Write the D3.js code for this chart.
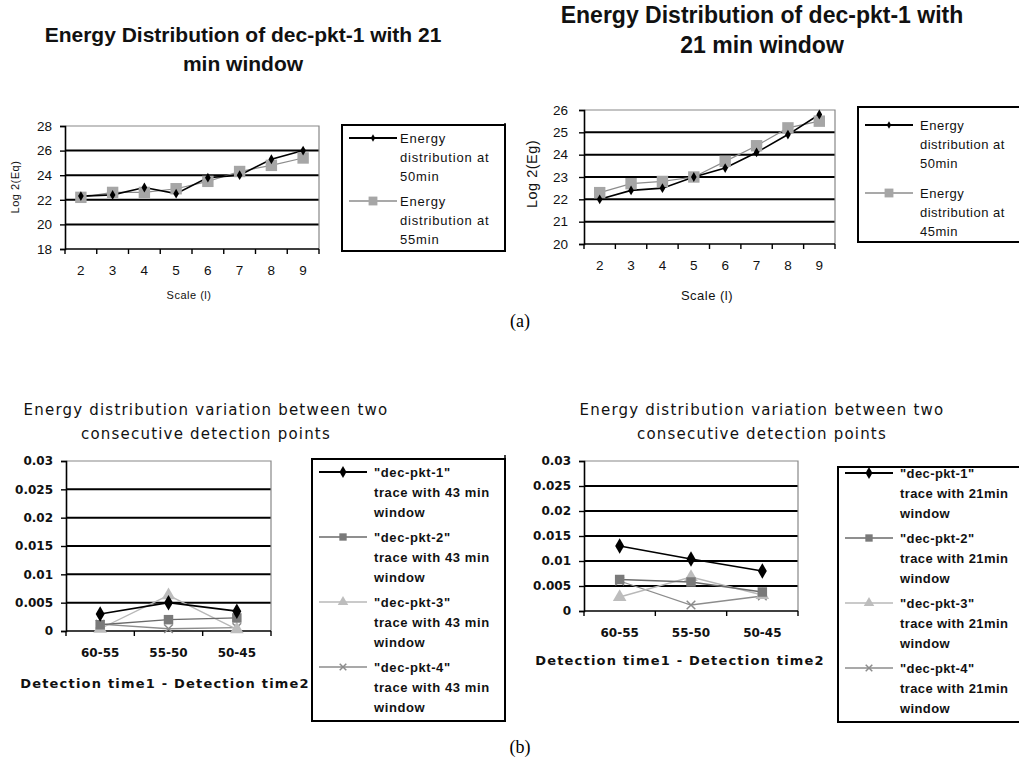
<!DOCTYPE html>
<html>
<head>
<meta charset="utf-8">
<script src="https://cdn.jsdelivr.net/npm/d3@7"></script>
<style>
  body { margin: 0; background: #fff; }
  svg { display: block; }
</style>
</head>
<body>
<script>
// data

var scales = ["2", "3", "4", "5", "6", "7", "8", "9"];
var leftAt50 = [22.3, 22.4, 23.0, 22.5, 23.8, 24.0, 25.3, 26.0];
var leftAt55 = [22.2, 22.6, 22.6, 22.9, 23.5, 24.3, 24.8, 25.4];
var rightAt50 = [22.0, 22.4, 22.5, 23.0, 23.4, 24.1, 24.9, 25.8];
var rightAt45 = [22.3, 22.7, 22.8, 23.0, 23.7, 24.4, 25.2, 25.5];
var leftTicks = [18, 20, 22, 24, 26, 28];
var rightTicks = [20, 21, 22, 23, 24, 25, 26];

var pairs = ["60-55", "55-50", "50-45"];
var win43Pkt1 = [0.003, 0.005, 0.0035];
var win43Pkt2 = [0.0011, 0.002, 0.0023];
var win43Pkt3 = [0.0004, 0.0063, 0.0003];
var win43Pkt4 = [0.0012, 0.0004, 0.0006];
var win21Pkt1 = [0.013, 0.0104, 0.008];
var win21Pkt2 = [0.0063, 0.0058, 0.0038];
var win21Pkt3 = [0.0028, 0.0068, 0.0032];
var win21Pkt4 = [0.006, 0.0012, 0.003];
var diffTicks = [0, 0.005, 0.01, 0.015, 0.02, 0.025, 0.03];
var diffTickLabels = ["0", "0.005", "0.01", "0.015", "0.02", "0.025", "0.03"];

var svg = d3.select("body").append("svg")
  .attr("width", 1019)
  .attr("height", 765);

var sans = "Liberation Sans, Arial, sans-serif";
var blocky = "DejaVu Sans, Verdana, sans-serif";

// marker styles, one per series slot
var styleTop = [
  { stroke: "#000", width: 1.6, symbol: d3.symbolDiamond, size: 28, fill: "#000" },
  { stroke: "#8c8c8c", width: 1.2, symbol: d3.symbolSquare, size: 130, fill: "#a6a6a6" }
];
var styleBottom = [
  { stroke: "#000", width: 1.6, symbol: d3.symbolDiamond, size: 70, fill: "#000" },
  { stroke: "#6a6a6a", width: 1.3, symbol: d3.symbolSquare, size: 90, fill: "#7a7a7a" },
  { stroke: "#b8b8b8", width: 1.3, symbol: d3.symbolTriangle, size: 80, fill: "#bdbdbd" },
  { stroke: "#8c8c8c", width: 1.3, symbol: d3.symbolX, size: 50, fill: "none" }
];

function marker(sel, st) {
  sel.attr("d", d3.symbol().type(st.symbol).size(st.size))
    .attr("fill", st.fill)
    .attr("stroke", st.fill == "none" ? st.stroke : "none")
    .attr("stroke-width", 1.5);
}

function drawChart(c) {
  var g = svg.append("g");
  var x = d3.scaleBand().domain(c.cats).range([c.left, c.left + c.width]);
  var y = d3.scaleLinear().domain([c.ticks[0], c.ticks[c.ticks.length - 1]])
    .range([c.top + c.height, c.top]);
  var bw = x.bandwidth();

  // titles
  g.selectAll(".title").data(c.title).enter().append("text")
    .attr("x", c.titleX)
    .attr("y", function (d, i) { return c.titleY + i * c.titleGap; })
    .attr("text-anchor", "middle")
    .style("font", c.titleFont)
    .style("letter-spacing", c.titleSpacing)
    .attr("fill", "#111")
    .text(function (d) { return d; });

  // grid
  g.selectAll(".grid").data(c.ticks.slice(1, -1)).enter().append("line")
    .attr("x1", c.left).attr("x2", c.left + c.width)
    .attr("y1", function (d) { return y(d); })
    .attr("y2", function (d) { return y(d); })
    .attr("stroke", "#000").attr("stroke-width", 2);

  // top and right border
  g.append("path")
    .attr("d", "M" + c.left + "," + c.top + "H" + (c.left + c.width) + "V" + (c.top + c.height))
    .attr("fill", "none").attr("stroke", "#888").attr("stroke-width", 1.2);

  // y axis
  var yAxis = g.append("g")
    .attr("transform", "translate(" + c.left + ",0)")
    .call(d3.axisLeft(y).tickValues(c.ticks).tickSize(5).tickPadding(c.yPad)
      .tickFormat(function (d, i) { return c.tickLabels[i]; }));
  yAxis.select(".domain").attr("stroke", "#000").attr("stroke-width", 1.6);
  yAxis.selectAll(".tick line").attr("stroke", "#000").attr("stroke-width", 1.4);
  yAxis.selectAll("text").style("font", c.tickFont).attr("fill", "#111");

  // x axis: ticks between the categories, labels in the middle
  g.append("line")
    .attr("x1", c.left).attr("x2", c.left + c.width)
    .attr("y1", c.top + c.height).attr("y2", c.top + c.height)
    .attr("stroke", "#000").attr("stroke-width", 1.6);
  g.selectAll(".xtick").data(c.cats.concat(["end"])).enter().append("line")
    .attr("x1", function (d, i) { return c.left + i * bw; })
    .attr("x2", function (d, i) { return c.left + i * bw; })
    .attr("y1", c.top + c.height).attr("y2", c.top + c.height + 5)
    .attr("stroke", "#000").attr("stroke-width", 1.4);
  g.selectAll(".xlab").data(c.cats).enter().append("text")
    .attr("x", function (d) { return x(d) + bw / 2; })
    .attr("y", c.top + c.height + c.xPad)
    .attr("text-anchor", "middle")
    .style("font", c.tickFont)
    .attr("fill", "#111")
    .text(function (d) { return d; });

  // axis titles
  g.append("text")
    .attr("x", c.xTitleX).attr("y", c.xTitleY)
    .attr("text-anchor", "middle")
    .style("font", c.xTitleFont)
    .style("letter-spacing", c.xTitleSpacing)
    .attr("fill", "#111")
    .text(c.xTitle);
  if (c.yTitle) {
    g.append("text")
      .attr("transform", "translate(" + c.yTitleX + "," + c.yTitleY + ") rotate(-90)")
      .attr("text-anchor", "middle")
      .style("font", c.yTitleFont)
      .style("letter-spacing", "0.5px")
      .attr("fill", "#111")
      .text(c.yTitle);
  }

  // series
  var line = d3.line()
    .x(function (d, i) { return x(c.cats[i]) + bw / 2; })
    .y(function (d) { return y(d); });
  var order = c.series.map(function (s, i) { return i; }).reverse();
  order.forEach(function (k) {
    var st = c.styles[k];
    g.append("path").datum(c.series[k])
      .attr("d", line)
      .attr("fill", "none")
      .attr("stroke", st.stroke)
      .attr("stroke-width", st.width);
  });
  order.forEach(function (k) {
    var st = c.styles[k];
    g.selectAll(".m" + k).data(c.series[k]).enter().append("path")
      .attr("transform", function (d, i) {
        return "translate(" + (x(c.cats[i]) + bw / 2) + "," + y(d) + ")";
      })
      .call(marker, st);
  });

  // legend
  var L = c.legend;
  g.append("rect")
    .attr("x", L.x).attr("y", L.y).attr("width", L.w).attr("height", L.h)
    .attr("fill", "#fff").attr("stroke", "#000").attr("stroke-width", 2);
  c.names.forEach(function (name, k) {
    var st = c.styles[k];
    var ly = L.y + L.first + k * L.step;
    g.append("line")
      .attr("x1", L.x + 7).attr("x2", L.x + 55)
      .attr("y1", ly).attr("y2", ly)
      .attr("stroke", st.stroke).attr("stroke-width", st.width + 0.4);
    g.append("path")
      .attr("transform", "translate(" + (L.x + 31) + "," + ly + ")")
      .call(marker, { symbol: st.symbol, size: st.size * 0.6, fill: st.fill, stroke: st.stroke });
    g.selectAll(".lg" + k).data(name).enter().append("text")
      .attr("x", L.x + L.textX)
      .attr("y", function (d, i) { return ly + 5 + i * L.lineGap; })
      .style("font", c.legendFont)
      .style("letter-spacing", c.legendSpacing)
      .attr("fill", "#111")
      .text(function (d) { return d; });
  });
}

drawChart({
  cats: scales, ticks: leftTicks, tickLabels: leftTicks.map(String),
  series: [leftAt50, leftAt55], styles: styleTop,
  left: 65, top: 126, width: 254, height: 123,
  title: ["Energy Distribution of dec-pkt-1 with 21", "min window"],
  titleX: 243, titleY: 42, titleGap: 29, titleFont: "bold 21px " + sans, titleSpacing: "0px",
  tickFont: "13.5px " + sans, yPad: 8, xPad: 26,
  xTitle: "Scale (l)", xTitleX: 189, xTitleY: 299, xTitleFont: "11px " + sans, xTitleSpacing: "0.5px",
  yTitle: "Log 2(Eq)", yTitleX: 19, yTitleY: 187, yTitleFont: "11px " + sans,
  names: [["Energy", "distribution at", "50min"], ["Energy", "distribution at", "55min"]],
  legend: { x: 342, y: 125, w: 163, h: 126, first: 13, step: 63, textX: 58, lineGap: 19 },
  legendFont: "13px " + sans, legendSpacing: "0.8px"
});

drawChart({
  cats: scales, ticks: rightTicks, tickLabels: rightTicks.map(String),
  series: [rightAt50, rightAt45], styles: styleTop,
  left: 584, top: 110, width: 251, height: 134,
  title: ["Energy Distribution of dec-pkt-1 with", "21 min window"],
  titleX: 762, titleY: 23, titleGap: 30, titleFont: "bold 23px " + sans, titleSpacing: "0px",
  tickFont: "13.5px " + sans, yPad: 11, xPad: 26,
  xTitle: "Scale (l)", xTitleX: 707, xTitleY: 300, xTitleFont: "13px " + sans, xTitleSpacing: "0.5px",
  yTitle: "Log 2(Eg)", yTitleX: 537, yTitleY: 174, yTitleFont: "14.5px " + sans,
  names: [["Energy", "distribution at", "50min"], ["Energy", "distribution at", "45min"]],
  legend: { x: 858, y: 107, w: 170, h: 135, first: 18, step: 68, textX: 62, lineGap: 19 },
  legendFont: "13px " + sans, legendSpacing: "0.5px"
});

function pktNames(win) {
  return [1, 2, 3, 4].map(function (n) {
    return ["\"dec-pkt-" + n + "\"", "trace with " + win, "window"];
  });
}

drawChart({
  cats: pairs, ticks: diffTicks, tickLabels: diffTickLabels,
  series: [win43Pkt1, win43Pkt2, win43Pkt3, win43Pkt4], styles: styleBottom,
  left: 66, top: 461, width: 205, height: 170,
  title: ["Energy distribution variation between two", "consecutive detection points"],
  titleX: 206, titleY: 415, titleGap: 24, titleFont: "15px " + blocky, titleSpacing: "1.2px",
  tickFont: "bold 12px " + blocky, yPad: 8, xPad: 26,
  xTitle: "Detection time1 - Detection time2", xTitleX: 165, xTitleY: 688,
  xTitleFont: "bold 13px " + blocky, xTitleSpacing: "1.2px",
  yTitle: null,
  names: pktNames("43 min"),
  legend: { x: 312, y: 459, w: 193, h: 262, first: 13, step: 65, textX: 62, lineGap: 20 },
  legendFont: "bold 13px " + sans, legendSpacing: "0.6px"
});

drawChart({
  cats: pairs, ticks: diffTicks, tickLabels: diffTickLabels,
  series: [win21Pkt1, win21Pkt2, win21Pkt3, win21Pkt4], styles: styleBottom,
  left: 584, top: 461, width: 214, height: 150,
  title: ["Energy distribution variation between two", "consecutive detection points"],
  titleX: 762, titleY: 415, titleGap: 24, titleFont: "15px " + blocky, titleSpacing: "1.2px",
  tickFont: "bold 12px " + blocky, yPad: 8, xPad: 26,
  xTitle: "Detection time1 - Detection time2", xTitleX: 680, xTitleY: 665,
  xTitleFont: "bold 13px " + blocky, xTitleSpacing: "1.2px",
  yTitle: null,
  names: pktNames("21min"),
  legend: { x: 838, y: 467, w: 200, h: 255, first: 6, step: 65, textX: 62, lineGap: 20 },
  legendFont: "bold 13px " + sans, legendSpacing: "0.4px"
});

// panel edges and captions
svg.append("line").attr("x1", 505).attr("x2", 505).attr("y1", 123).attr("y2", 248)
  .attr("stroke", "#000").attr("stroke-width", 1.5);
svg.append("line").attr("x1", 505).attr("x2", 505).attr("y1", 455).attr("y2", 722)
  .attr("stroke", "#000").attr("stroke-width", 1.5);
svg.selectAll(".cap").data([["(a)", 327], ["(b)", 753]]).enter().append("text")
  .attr("x", 520).attr("y", function (d) { return d[1]; })
  .attr("text-anchor", "middle")
  .style("font", "18px Liberation Serif, Times New Roman, serif")
  .text(function (d) { return d[0]; });
</script>
</body>
</html>
